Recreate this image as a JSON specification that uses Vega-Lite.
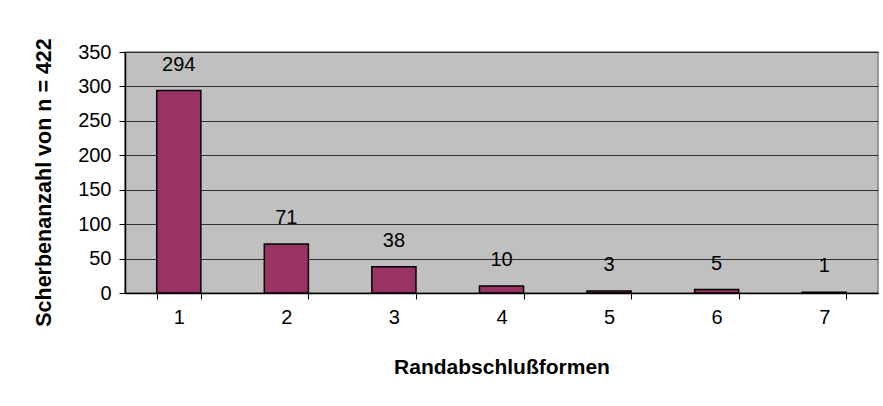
{
  "$schema": "https://vega.github.io/schema/vega-lite/v6.json",
  "autosize": "none",
  "width": 753,
  "height": 241,
  "padding": {"left": 125, "top": 52, "right": 5, "bottom": 113},
  "background": "white",
  "config": {
    "font": "Liberation Sans",
    "view": {"fill": "#C0C0C0", "stroke": "#808080", "strokeWidth": 1.5}
  },
  "data": {
    "values": [
      {"Form": "1", "Anzahl": 294},
      {"Form": "2", "Anzahl": 71},
      {"Form": "3", "Anzahl": 38},
      {"Form": "4", "Anzahl": 10},
      {"Form": "5", "Anzahl": 3},
      {"Form": "6", "Anzahl": 5},
      {"Form": "7", "Anzahl": 1}
    ]
  },
  "encoding": {
    "x": {
      "field": "Form",
      "type": "ordinal",
      "scale": {"paddingInner": 0.59, "paddingOuter": 0.295},
      "axis": {
        "title": "Randabschlußformen",
        "titleFont": "Liberation Sans",
        "titleFontSize": 21,
        "titleFontWeight": "bold",
        "titleColor": "black",
        "titleY": 74,
        "titleBaseline": "middle",
        "labelAngle": 0,
        "labelFontSize": 20,
        "labelColor": "black",
        "labelPadding": 8,
        "tickBand": "extent",
        "tickSize": 6,
        "tickColor": "black",
        "domainColor": "black",
        "domainWidth": 1.5,
        "grid": false
      }
    },
    "y": {
      "field": "Anzahl",
      "type": "quantitative",
      "scale": {"domain": [0, 350], "nice": false},
      "axis": {
        "title": "Scherbenanzahl von n = 422",
        "titleFont": "Liberation Sans",
        "titleFontSize": 21.5,
        "titleFontWeight": "bold",
        "titleColor": "black",
        "titleAngle": 270,
        "titleX": -81,
        "titleY": 130,
        "titleAlign": "center",
        "titleBaseline": "middle",
        "values": [0, 50, 100, 150, 200, 250, 300, 350],
        "labelFontSize": 20,
        "labelColor": "black",
        "labelPadding": 8,
        "tickSize": 6,
        "tickColor": "black",
        "domainColor": "black",
        "domainWidth": 1.5,
        "grid": true,
        "gridColor": "#303030",
        "gridWidth": 1.2,
        "gridOpacity": 1
      }
    }
  },
  "layer": [
    {
      "mark": {"type": "bar", "fill": "#993366", "stroke": "black", "strokeWidth": 1.5}
    },
    {
      "mark": {"type": "text", "dy": -26, "fontSize": 20, "color": "black", "baseline": "middle"},
      "encoding": {"text": {"field": "Anzahl", "type": "quantitative"}}
    }
  ]
}
